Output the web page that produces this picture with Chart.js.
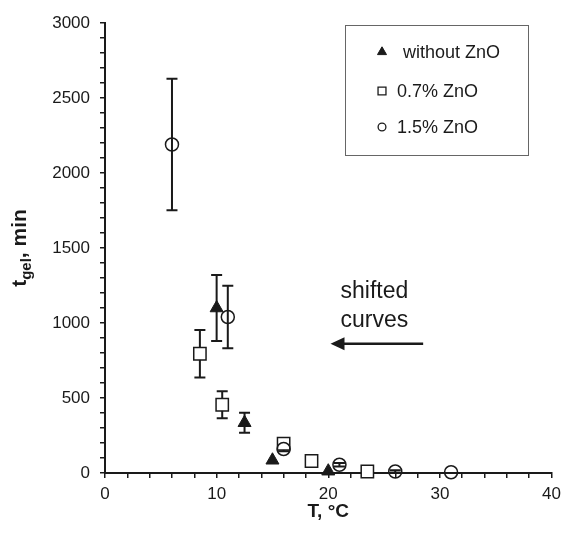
<!DOCTYPE html>
<html>
<head>
<meta charset="utf-8">
<script src="https://cdn.jsdelivr.net/npm/chart.js@4.4.0/dist/chart.umd.min.js"></script>
<style>
  html, body { margin: 0; padding: 0; background: #fff; }
</style>
</head>
<body>
<canvas id="gelChart" width="567" height="538"></canvas>
<script>
// data (T in °C, t_gel in min, error = ± half bar)
const seriesNames = ['without ZnO', '0.7% ZnO', '1.5% ZnO'];

const tNoZnO = [10, 12.5, 15, 20];
const gelNoZnO = [1100, 335, 85, 12];
const errNoZnO = [220, 67, 0, 0];

const t07ZnO = [8.5, 10.5, 16, 18.5, 23.5];
const gel07ZnO = [795, 455, 195, 80, 10];
const err07ZnO = [158, 90, 0, 0, 0];

const t15ZnO = [6, 11, 16, 21, 26, 31];
const gel15ZnO = [2190, 1040, 160, 55, 10, 5];
const err15ZnO = [438, 208, 15, 12, 8, 0];

const xTicks = [0, 10, 20, 30, 40];
const yTicks = [0, 500, 1000, 1500, 2000, 2500, 3000];

// annotation "shifted curves" (data coords)
const noteLines = ['shifted', 'curves'];
const noteAt = { x: 21.1, y: [1165, 971] };
const arrowAt = { from: 28.5, to: 20.2, y: 862 };

const INK = '#1a1a1a';
const FONT = '"Liberation Sans", Arial, sans-serif';

function toPoints(xs, ys) {
    return xs.map((x, i) => ({ x: x, y: ys[i] }));
}

// error bars go behind the markers
const errorBarPlugin = {
    id: 'errorBars',
    beforeDatasetsDraw(chart) {
        const ctx = chart.ctx;
        const xs = chart.scales.x, ys = chart.scales.y;
        ctx.save();
        ctx.strokeStyle = INK;
        ctx.lineWidth = 2;
        chart.data.datasets.forEach(ds => {
            ds.data.forEach((p, i) => {
                const e = ds.errors[i];
                if (!e) return;
                const px = xs.getPixelForValue(p.x);
                const top = ys.getPixelForValue(p.y + e);
                const bot = ys.getPixelForValue(Math.max(p.y - e, 0));
                ctx.beginPath();
                ctx.moveTo(px, top); ctx.lineTo(px, bot);
                ctx.moveTo(px - 5.5, top); ctx.lineTo(px + 5.5, top);
                ctx.moveTo(px - 5.5, bot); ctx.lineTo(px + 5.5, bot);
                ctx.stroke();
            });
        });
        ctx.restore();
    }
};

// legend box, titles and the arrow note
const decorPlugin = {
    id: 'decor',
    afterDraw(chart) {
        const ctx = chart.ctx;
        const xs = chart.scales.x, ys = chart.scales.y;
        const area = chart.chartArea;
        ctx.save();

        // legend
        ctx.strokeStyle = '#666';
        ctx.lineWidth = 1;
        ctx.strokeRect(345.5, 25.5, 183, 130);
        const rowY = [52, 91, 127];
        const textX = [403, 397, 397];
        const legendMarks = [
            { pointStyle: 'triangle', radius: 5.2, borderWidth: 1, rotation: 0 },
            { pointStyle: 'rect', radius: 5.6, borderWidth: 1.3, rotation: 0 },
            { pointStyle: 'circle', radius: 3.9, borderWidth: 1.3, rotation: 0 }
        ];
        const fills = [INK, '#fff', '#fff'];
        ctx.font = '18px ' + FONT;
        ctx.textBaseline = 'middle';
        ctx.textAlign = 'left';
        seriesNames.forEach((name, i) => {
            ctx.fillStyle = fills[i];
            ctx.strokeStyle = INK;
            ctx.lineWidth = legendMarks[i].borderWidth;
            Chart.helpers.drawPoint(ctx, legendMarks[i], 382, rowY[i]);
            ctx.fillStyle = INK;
            ctx.fillText(name, textX[i], rowY[i] + 1);
        });

        // x title
        ctx.fillStyle = INK;
        ctx.font = 'bold 19px ' + FONT;
        ctx.textAlign = 'center';
        ctx.textBaseline = 'middle';
        ctx.fillText('T, °C', (area.left + area.right) / 2, 512);

        // y title with subscript
        ctx.save();
        ctx.translate(26, (area.top + area.bottom) / 2);
        ctx.rotate(-Math.PI / 2);
        ctx.textAlign = 'left';
        ctx.textBaseline = 'alphabetic';
        const big = 'bold 21px ' + FONT, small = 'bold 15px ' + FONT;
        ctx.font = big; const w1 = ctx.measureText('t').width;
        ctx.font = small; const w2 = ctx.measureText('gel').width;
        ctx.font = big; const w3 = ctx.measureText(', min').width;
        let cx = -(w1 + w2 + w3) / 2;
        ctx.font = big; ctx.fillText('t', cx, 0); cx += w1;
        ctx.font = small; ctx.fillText('gel', cx, 5); cx += w2;
        ctx.font = big; ctx.fillText(', min', cx, 0);
        ctx.restore();

        // note + arrow
        ctx.font = '23px ' + FONT;
        ctx.textAlign = 'left';
        ctx.textBaseline = 'alphabetic';
        noteLines.forEach((s, i) => {
            ctx.fillText(s, xs.getPixelForValue(noteAt.x), ys.getPixelForValue(noteAt.y[i]));
        });
        const ax0 = xs.getPixelForValue(arrowAt.from);
        const ax1 = xs.getPixelForValue(arrowAt.to);
        const ay = ys.getPixelForValue(arrowAt.y);
        ctx.strokeStyle = INK;
        ctx.lineWidth = 2.5;
        ctx.beginPath();
        ctx.moveTo(ax0, ay); ctx.lineTo(ax1 + 10, ay);
        ctx.stroke();
        ctx.beginPath();
        ctx.moveTo(ax1, ay);
        ctx.lineTo(ax1 + 14, ay - 6.5);
        ctx.lineTo(ax1 + 14, ay + 6.5);
        ctx.closePath();
        ctx.fill();

        ctx.restore();
    }
};

const ctx = document.getElementById('gelChart').getContext('2d');
new Chart(ctx, {
    type: 'scatter',
    data: {
        datasets: [
            {
                label: seriesNames[2],
                data: toPoints(t15ZnO, gel15ZnO),
                errors: err15ZnO,
                pointStyle: 'circle',
                pointRadius: 6.5,
                pointBorderWidth: 1.5,
                borderColor: INK,
                backgroundColor: 'rgba(0,0,0,0)',
                clip: false,
                order: 0
            },
            {
                label: seriesNames[1],
                data: toPoints(t07ZnO, gel07ZnO),
                errors: err07ZnO,
                pointStyle: 'rect',
                pointRadius: 8.7,
                pointBorderWidth: 1.5,
                borderColor: INK,
                backgroundColor: '#fff',
                clip: false,
                order: 1
            },
            {
                label: seriesNames[0],
                data: toPoints(tNoZnO, gelNoZnO),
                errors: errNoZnO,
                pointStyle: 'triangle',
                pointRadius: 7.5,
                pointBorderWidth: 1,
                borderColor: INK,
                backgroundColor: INK,
                clip: false,
                order: 2
            }
        ]
    },
    options: {
        responsive: false,
        animation: false,
        layout: { padding: { top: 23, right: 12, left: 0, bottom: 0 } },
        plugins: {
            legend: { display: false },
            tooltip: { enabled: false }
        },
        scales: {
            x: {
                type: 'linear',
                min: 0,
                max: 40,
                afterFit: s => { s.height = 65; },
                border: { color: INK, width: 2 },
                grid: { drawOnChartArea: false, tickLength: 5, color: INK, lineWidth: 1.5 },
                ticks: {
                    stepSize: 2,
                    autoSkip: false,
                    maxRotation: 0,
                    padding: 6,
                    color: INK,
                    font: { family: FONT, size: 17 },
                    callback: v => xTicks.includes(v) ? v : ''
                }
            },
            y: {
                type: 'linear',
                min: 0,
                max: 3000,
                afterFit: s => { s.width = 105; },
                border: { color: INK, width: 2 },
                grid: { drawOnChartArea: false, tickLength: 5, color: INK, lineWidth: 1.5 },
                ticks: {
                    stepSize: 100,
                    autoSkip: false,
                    padding: 10,
                    color: INK,
                    font: { family: FONT, size: 17 },
                    callback: v => yTicks.includes(v) ? v : ''
                }
            }
        }
    },
    plugins: [errorBarPlugin, decorPlugin]
});
</script>
</body>
</html>
